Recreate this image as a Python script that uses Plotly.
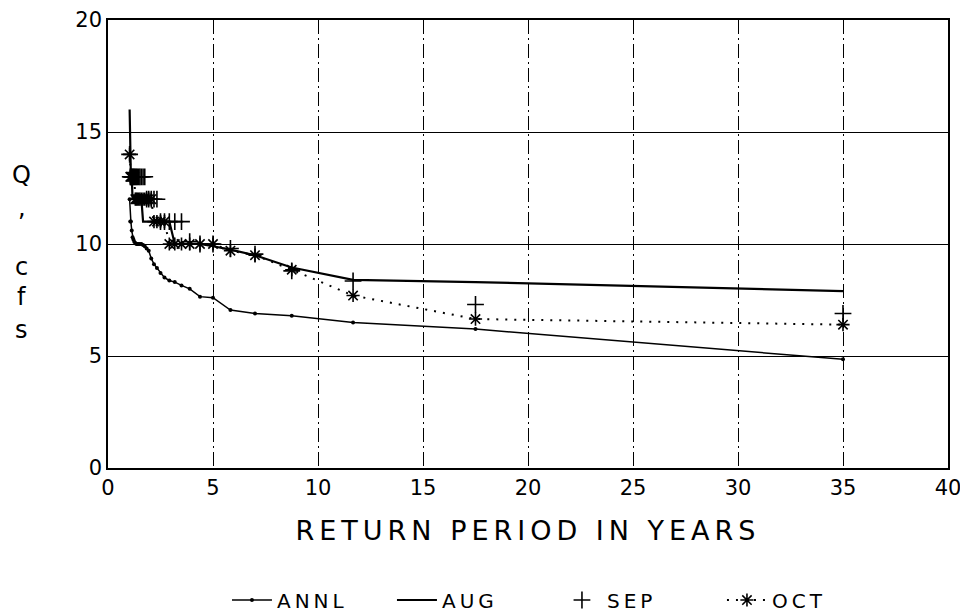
import plotly.graph_objects as go

# Return period in years (plotting positions)
return_period = [1.03, 1.06, 1.09, 1.13, 1.17, 1.21, 1.25, 1.30, 1.35, 1.40,
                 1.46, 1.52, 1.59, 1.67, 1.75, 1.84, 1.94, 2.06, 2.19, 2.33,
                 2.50, 2.69, 2.92, 3.18, 3.50, 3.89, 4.38, 5.00, 5.83, 7.00,
                 8.75, 11.67, 17.50, 35.00]

annl = [12.0, 11.0, 11.0, 10.6, 10.3, 10.2, 10.1, 10.05, 10.0, 10.0,
        10.0, 10.0, 10.0, 9.96, 9.9, 9.8, 9.7, 9.35, 9.1, 8.93,
        8.7, 8.5, 8.37, 8.3, 8.15, 8.0, 7.65, 7.6, 7.05, 6.9,
        6.8, 6.5, 6.2, 4.85]

aug = [16.0, 14.0, 13.0, 13.0, 12.0, 12.0, 12.0, 12.0, 12.0, 12.0,
       12.0, 12.0, 12.0, 11.0, 11.0, 11.0, 11.0, 11.0, 11.0, 11.0,
       11.0, 11.0, 11.0, 10.0, 10.0, 10.0, 10.0, 9.9, 9.75, 9.5,
       8.95, 8.4, 8.3, 7.9]

sep = [14.0, 13.0, 13.0, 13.0, 13.0, 13.0, 13.0, 13.0, 13.0, 13.0,
       13.0, 13.0, 13.0, 13.0, 13.0, 12.0, 12.0, 12.0, 12.0, 12.0,
       11.0, 11.0, 11.0, 11.0, 11.0, 10.1, 10.0, 10.0, 9.8, 9.55,
       8.8, 8.35, 7.3, 6.9]

octo = [14.0, 13.0, 13.0, 13.0, 13.0, 13.0, 13.0, 12.0, 12.0, 12.0,
        12.0, 12.0, 12.0, 12.0, 12.0, 12.0, 12.0, 12.0, 11.0, 11.0,
        11.0, 11.0, 10.0, 10.0, 10.0, 10.0, 10.0, 10.0, 9.7, 9.5,
        8.85, 7.7, 6.65, 6.4]

series_names = ["ANNL", "AUG", "SEP", "OCT"]
x_ticks = [0, 5, 10, 15, 20, 25, 30, 35, 40]
y_ticks = [0, 5, 10, 15, 20]

FONT = "DejaVu Sans"


def spaced(text, px):
    return '<span style="letter-spacing:%dpx">%s</span>' % (px, text)


fig = go.Figure()
fig.add_trace(go.Scatter(
    x=return_period, y=annl, name=spaced(series_names[0], 4), mode="lines+markers",
    line=dict(color="black", width=1.5),
    marker=dict(symbol="circle", size=4, color="black")))
fig.add_trace(go.Scatter(
    x=return_period, y=aug, name=spaced(series_names[1], 4), mode="lines",
    line=dict(color="black", width=2.2)))
fig.add_trace(go.Scatter(
    x=return_period, y=sep, name=spaced(series_names[2], 4), mode="markers",
    marker=dict(symbol="cross-thin-open", size=12, color="black",
                line=dict(color="black", width=1.6))))
fig.add_trace(go.Scatter(
    x=return_period, y=octo, name=spaced(series_names[3], 4), mode="lines+markers",
    line=dict(color="black", width=2, dash="2px,7px"),
    marker=dict(symbol="asterisk-open", size=11, color="black",
                line=dict(color="black", width=1.6))))

fig.update_layout(
    width=968, height=614,
    margin=dict(l=100, r=28, t=12, b=154),
    paper_bgcolor="white", plot_bgcolor="white",
    font=dict(family=FONT, color="black"),
    showlegend=True,
    legend=dict(orientation="h", xref="container", yref="container",
                x=0.2262, xanchor="left", y=0.0358, yanchor="middle",
                font=dict(family=FONT, size=20, color="black"),
                itemwidth=40,
                entrywidth=110, entrywidthmode="pixels",
                bgcolor="rgba(0,0,0,0)"),
)

fig.update_xaxes(
    range=[0, 40], tickvals=x_ticks, ticktext=[str(v) for v in x_ticks],
    showgrid=True, gridcolor="black", gridwidth=1, griddash="14px,4px,2px,4px",
    showline=True, linecolor="black", linewidth=1.5, mirror=True,
    zeroline=False, ticks="", ticklabelstandoff=0,
    tickfont=dict(family=FONT, size=21, color="black"),
    title=dict(text=spaced("RETURN PERIOD IN YEARS", 5), standoff=22,
               font=dict(family=FONT, size=27, color="black")),
    automargin=False)

fig.update_yaxes(
    range=[0, 20], tickvals=y_ticks, ticktext=[str(v) for v in y_ticks],
    showgrid=True, gridcolor="black", gridwidth=1,
    showline=True, linecolor="black", linewidth=1.5, mirror=True,
    zeroline=False, ticks="", tickfont=dict(family=FONT, size=21, color="black"),
    automargin=False)

ylab = [("Q", 0.654), (",", 0.58), ("c", 0.4487), ("f", 0.3817), ("s", 0.308)]
for ch, yp in ylab:
    fig.add_annotation(text=ch, xref="paper", yref="paper", x=-0.1024, y=yp,
                       xanchor="center", yanchor="middle", showarrow=False,
                       font=dict(family=FONT, size=24, color="black"))

fig.write_html("out.html")
